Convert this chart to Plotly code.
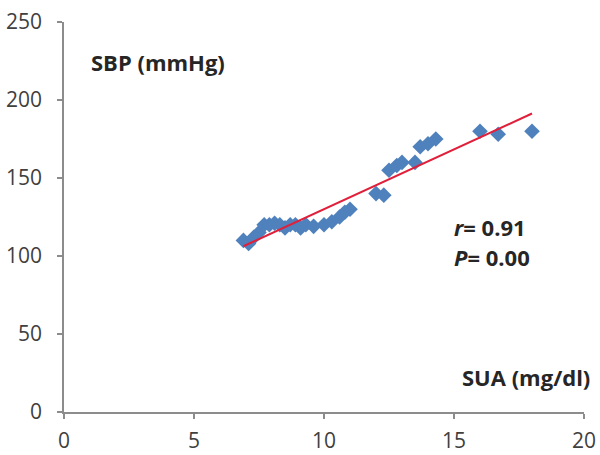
import numpy as np
import plotly.graph_objects as go

sua = [6.9, 7.1, 7.3, 7.5, 7.7, 7.9, 8.1, 8.3, 8.5, 8.7, 8.9, 9.1, 9.3, 9.6,
       10.0, 10.3, 10.6, 10.8, 11.0, 12.0, 12.3, 12.5, 12.8, 13.0, 13.5, 13.7,
       14.0, 14.3, 16.0, 16.7, 18.0]
sbp = [110, 108, 112, 115, 120, 120, 121, 120, 118, 120, 120, 118, 120, 119,
       120, 122, 125, 128, 130, 140, 139, 155, 158, 160, 160, 170, 172, 175,
       180, 178, 180]

x_ticks = [0, 5, 10, 15, 20]
y_ticks = [0, 50, 100, 150, 200, 250]

slope, intercept = np.polyfit(sua, sbp, 1)
fit_x = [min(sua), max(sua)]
fit_y = [slope * v + intercept for v in fit_x]

fig = go.Figure()
fig.add_trace(go.Scatter(
    x=sua, y=sbp, mode="markers",
    marker=dict(symbol="diamond", size=12, color="#4F81BD", line=dict(width=0)),
    showlegend=False))
fig.add_trace(go.Scatter(
    x=fit_x, y=fit_y, mode="lines",
    line=dict(color="#E0203A", width=2), showlegend=False))

font = "Open Sans, Liberation Sans, sans-serif"
axis_common = dict(showgrid=False, zeroline=False, showline=True,
                   linecolor="#8C8C8C", linewidth=1.5, ticks="outside",
                   ticklen=5, tickcolor="#8C8C8C", tickwidth=1.5,
                   automargin=False,
                   tickfont=dict(family=font, size=21, color="#404040"))
fig.update_xaxes(range=[0, 20], tickvals=x_ticks, ticklabelstandoff=4,
                 **axis_common)
fig.update_yaxes(range=[0, 250], tickvals=y_ticks, ticklabelstandoff=11,
                 **axis_common)

lab_font = dict(family=font, size=22, color="#262626")
fig.add_annotation(x=0.048, y=0.897, xref="paper", yref="paper",
                   text="<b>SBP (mmHg)</b>", showarrow=False,
                   xanchor="left", yanchor="middle", font=lab_font)
fig.add_annotation(x=1.015, y=0.09, xref="paper", yref="paper",
                   text="<b>SUA (mg/dl)</b>", showarrow=False,
                   xanchor="right", yanchor="middle", font=lab_font)
fig.add_annotation(x=0.746, y=0.474, xref="paper", yref="paper",
                   text="<b><i>r</i>= 0.91</b>", showarrow=False,
                   xanchor="left", yanchor="middle", font=lab_font)
fig.add_annotation(x=0.746, y=0.397, xref="paper", yref="paper",
                   text="<b><i>P</i>= 0.00</b>", showarrow=False,
                   xanchor="left", yanchor="middle", font=lab_font)

fig.update_layout(width=600, height=455,
                  margin=dict(l=64, r=16, t=22, b=43),
                  plot_bgcolor="white", paper_bgcolor="white")
fig.write_html("out.html")
